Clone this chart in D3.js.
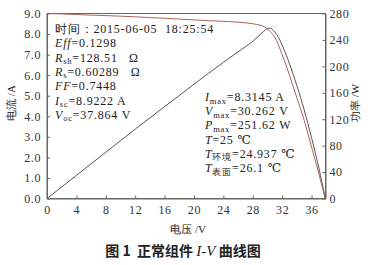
<!DOCTYPE html>
<head>
  <meta charset="utf-8">
  <script src="https://cdn.jsdelivr.net/npm/d3@7/dist/d3.min.js"></script>
  <style>
    body { margin: 0; background: white; }
    text { font-family: "Liberation Serif", "DejaVu Serif", serif; fill: #222; white-space: pre; }
  </style>
</head>
<body>
  <div id="chart"></div>
  <script>

  // I-V curve (current, A)
  var ivVolt = [0, 2, 4, 6, 8, 10, 12, 14, 16, 18, 20, 22, 24, 26, 27, 28, 29, 29.6, 30, 30.5, 31, 32, 33, 34, 35, 36, 37, 37.86];
  var ivCurr = [9.0, 8.98, 8.95, 8.92, 8.90, 8.87, 8.84, 8.80, 8.77, 8.73, 8.69, 8.65, 8.62, 8.58, 8.55, 8.50, 8.43, 8.35, 8.25, 8.08, 7.85, 7.0, 6.0, 4.9, 3.8, 2.5, 1.2, 0];

  // P-V curve (power, W)
  var pvVolt = [0, 4, 8, 12, 16, 20, 24, 26, 28, 29, 30, 30.3, 31, 31.5, 32, 33, 34, 35, 36, 37, 37.86];
  var pvPow = [0, 35, 70, 105, 139, 173, 206, 222, 238, 248, 257, 258, 252, 244, 232, 204, 171, 134, 92, 46, 0];

  var xTicks = [0, 4, 8, 12, 16, 20, 24, 28, 32, 36];
  var yTicks = [0, 1, 2, 3, 4, 5, 6, 7, 8, 9];
  var pTicks = [0, 40, 80, 120, 160, 200, 240, 280];

  var infoLeft = [
    [["时间：2015-06-05\u00a0\u00a018:25:54", ""]],
    [["Eff", "i"], ["=0.1298", ""]],
    [["R", "i"], ["sh", "s"], ["=128.51\u00a0\u00a0\u00a0Ω", ""]],
    [["R", "i"], ["s", "s"], ["=0.60289\u00a0\u00a0\u00a0Ω", ""]],
    [["FF", "i"], ["=0.7448", ""]],
    [["I", "i"], ["sc", "s"], ["=8.9222 A", ""]],
    [["V", "i"], ["oc", "s"], ["=37.864 V", ""]]
  ];
  var infoRight = [
    [["I", "i"], ["max", "s"], ["=8.3145 A", ""]],
    [["V", "i"], ["max", "s"], ["=30.262 V", ""]],
    [["P", "i"], ["max", "s"], ["=251.62 W", ""]],
    [["T", "i"], ["=25 ℃", ""]],
    [["T", "i"], ["环境", "s"], ["=24.937 ℃", ""]],
    [["T", "i"], ["表面", "s"], ["=26.1 ℃", ""]]
  ];

  function drawChart() {

    var width = 368, height = 265;
    var plotL = 47, plotR = 325.5, plotT = 13.5, plotB = 198.5;

    var svg = d3.select("#chart").append("svg")
      .attr("width", width)
      .attr("height", height);

    var x = d3.scaleLinear().domain([0, 37.9]).range([plotL, plotR]);
    var yI = d3.scaleLinear().domain([0, 9]).range([plotB, plotT]);
    var yP = d3.scaleLinear().domain([0, 280]).range([plotB, plotT]);

    // frame
    svg.append("rect")
      .attr("x", plotL).attr("y", plotT)
      .attr("width", plotR - plotL).attr("height", plotB - plotT)
      .style("fill", "none").style("stroke", "#666").style("stroke-width", 1);

    var xAxis = svg.append("g")
      .attr("transform", "translate(0," + plotB + ")")
      .call(d3.axisBottom(x).tickValues(xTicks).tickSizeInner(-3).tickSizeOuter(0).tickPadding(7));
    var yAxis = svg.append("g")
      .attr("transform", "translate(" + plotL + ",0)")
      .call(d3.axisLeft(yI).tickValues(yTicks).tickFormat(d3.format(".1f")).tickSizeInner(-3).tickSizeOuter(0).tickPadding(6));
    var pAxis = svg.append("g")
      .attr("transform", "translate(" + plotR + ",0)")
      .call(d3.axisRight(yP).tickValues(pTicks).tickSizeInner(-3).tickSizeOuter(0).tickPadding(4));

    [xAxis, yAxis, pAxis].forEach(function(g) {
      g.select(".domain").style("stroke", "#666");
      g.selectAll(".tick line").style("stroke", "#666");
      g.selectAll(".tick text")
        .style("font-family", "'Liberation Serif', serif")
        .style("font-size", "12px")
        .style("letter-spacing", "0.6px")
        .style("fill", "#333");
    });

    var line = d3.line().curve(d3.curveMonotoneX);

    svg.append("path")
      .attr("d", line.x(function(d, i) { return x(pvVolt[i]); }).y(function(d) { return yP(d); })(pvPow))
      .style("fill", "none").style("stroke", "#555").style("stroke-width", 1);

    svg.append("path")
      .attr("d", line.x(function(d, i) { return x(ivVolt[i]); }).y(function(d) { return yI(d); })(ivCurr))
      .style("fill", "none").style("stroke", "#a8625a").style("stroke-width", 1);

    function writeLines(lines, x0, y0, step) {
      lines.forEach(function(parts, k) {
        var t = svg.append("text")
          .attr("x", x0).attr("y", y0 + k * step)
          .style("font-size", "12px")
          .style("letter-spacing", "0.8px");
        var wasSub = false;
        parts.forEach(function(p) {
          var ts = t.append("tspan").text(p[0]);
          if (p[1] == "i") ts.style("font-style", "italic");
          if (p[1] == "s") {
            ts.style("font-size", "8.5px").attr("dy", 2.5);
          } else if (wasSub) {
            ts.attr("dy", -2.5);
          }
          wasSub = (p[1] == "s");
        });
      });
    }

    writeLines(infoLeft, 55, 33, 14.3);
    writeLines(infoRight, 205, 101, 14.2);

    // axis titles
    svg.append("text")
      .attr("transform", "translate(15,103) rotate(-90)")
      .attr("text-anchor", "middle")
      .style("font-size", "11px")
      .text("电流 /A");
    svg.append("text")
      .attr("transform", "translate(359,103) rotate(-90)")
      .attr("text-anchor", "middle")
      .style("font-size", "11px")
      .text("功率 /W");
    svg.append("text")
      .attr("x", 188).attr("y", 233)
      .attr("text-anchor", "middle")
      .style("font-size", "11px")
      .text("电压 /V");

    // caption
    var cap = svg.append("text")
      .attr("x", 183).attr("y", 256)
      .attr("text-anchor", "middle")
      .style("font-family", "'Noto Sans CJK SC', sans-serif")
      .style("font-size", "14px")
      .style("font-weight", "bold");
    cap.append("tspan").text("图 1  正常组件 ");
    cap.append("tspan").text("I-V")
      .style("font-family", "'Liberation Serif', serif")
      .style("font-style", "italic")
      .style("font-weight", "normal")
      .style("font-size", "15px");
    cap.append("tspan").text(" 曲线图");
  }

  drawChart();

  </script>
</body>
